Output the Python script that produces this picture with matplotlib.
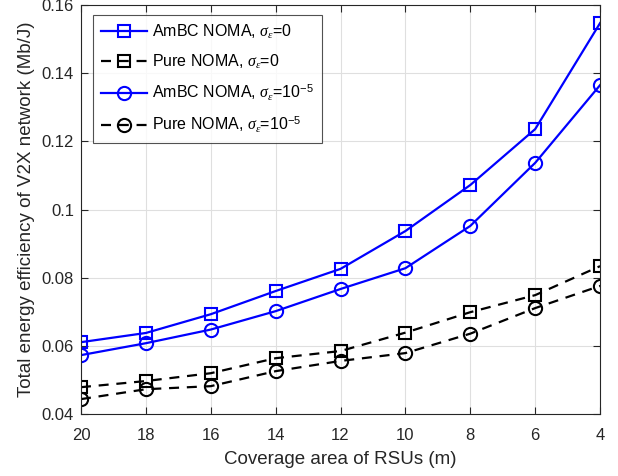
import matplotlib
matplotlib.use("Agg")
import matplotlib.pyplot as plt
import numpy as np

plt.rcParams['font.family'] = ['Liberation Sans', 'DejaVu Sans']
plt.rcParams['mathtext.fontset'] = 'custom'
plt.rcParams['mathtext.it'] = 'Liberation Serif:italic'
plt.rcParams['mathtext.rm'] = 'Liberation Sans'

coverage = [20, 18, 16, 14, 12, 10, 8, 6, 4]
ambc_0 = [0.0611, 0.0638, 0.0693, 0.0761, 0.0826, 0.0937, 0.1072, 0.1236, 0.1547]
pure_0 = [0.0479, 0.0497, 0.0520, 0.0564, 0.0585, 0.0639, 0.0699, 0.0749, 0.0834]
ambc_5 = [0.0573, 0.0608, 0.0648, 0.0702, 0.0767, 0.0828, 0.0952, 0.1137, 0.1365]
pure_5 = [0.0444, 0.0473, 0.0482, 0.0526, 0.0556, 0.0579, 0.0636, 0.0711, 0.0776]

labels = [r'AmBC NOMA, $\sigma_{\epsilon}$=0',
          r'Pure NOMA, $\sigma_{\epsilon}$=0',
          r'AmBC NOMA, $\sigma_{\epsilon}$=10$^{-5}$',
          r'Pure NOMA, $\sigma_{\epsilon}$=10$^{-5}$']

fig = plt.figure(figsize=(6.18, 4.76), dpi=100)
ax = fig.add_axes([0.131, 0.130, 0.840, 0.8595])

blue = '#0000ff'
kws = dict(linewidth=1.6, markersize=8, markerfacecolor='none', markeredgewidth=1.5)
kwc = dict(linewidth=1.6, markersize=9.5, markerfacecolor='none', markeredgewidth=1.5)
ax.plot(coverage, ambc_0, '-s', color=blue, label=labels[0], **kws)
ax.plot(coverage, pure_0, '--s', color='k', label=labels[1], dashes=(4.5, 3.5), **kws)
ax.plot(coverage, ambc_5, '-o', color=blue, label=labels[2], **kwc)
ax.plot(coverage, pure_5, '--o', color='k', label=labels[3], dashes=(4.5, 3.5), **kwc)

ax.set_xlim(20, 4)
ax.set_ylim(0.04, 0.16)
ax.set_xticks(coverage)
ax.set_xticklabels([str(c) for c in coverage])
ax.set_yticks([0.04, 0.06, 0.08, 0.10, 0.12, 0.14, 0.16])
ax.set_yticklabels(['0.04', '0.06', '0.08', '0.1', '0.12', '0.14', '0.16'])
ax.grid(True, color='#dfdfdf', linewidth=0.8)
ax.set_axisbelow(True)
ax.tick_params(direction='in', length=5, labelsize=12, colors='#262626', top=True, right=True,
               labeltop=False, labelright=False)
ax.tick_params(axis='x', pad=10)
ax.tick_params(axis='y', pad=5)
for s in ax.spines.values():
    s.set_color('#262626')
    s.set_linewidth(0.8)
ax.set_xlabel('Coverage area of RSUs (m)', fontsize=13.5, color='#262626', labelpad=6)
ax.set_ylabel('Total energy efficiency of V2X network (Mb/J)', fontsize=13.5, color='#262626',
              labelpad=5)

leg = ax.legend(loc='upper left', bbox_to_anchor=(0.023, 0.9756), fontsize=11.5, frameon=True,
                fancybox=False, edgecolor='#262626', handlelength=2.9, labelspacing=0.72,
                borderpad=0.5, handletextpad=0.3, borderaxespad=0)
leg.get_frame().set_linewidth(0.8)

fig.savefig('out.png', dpi=100)
